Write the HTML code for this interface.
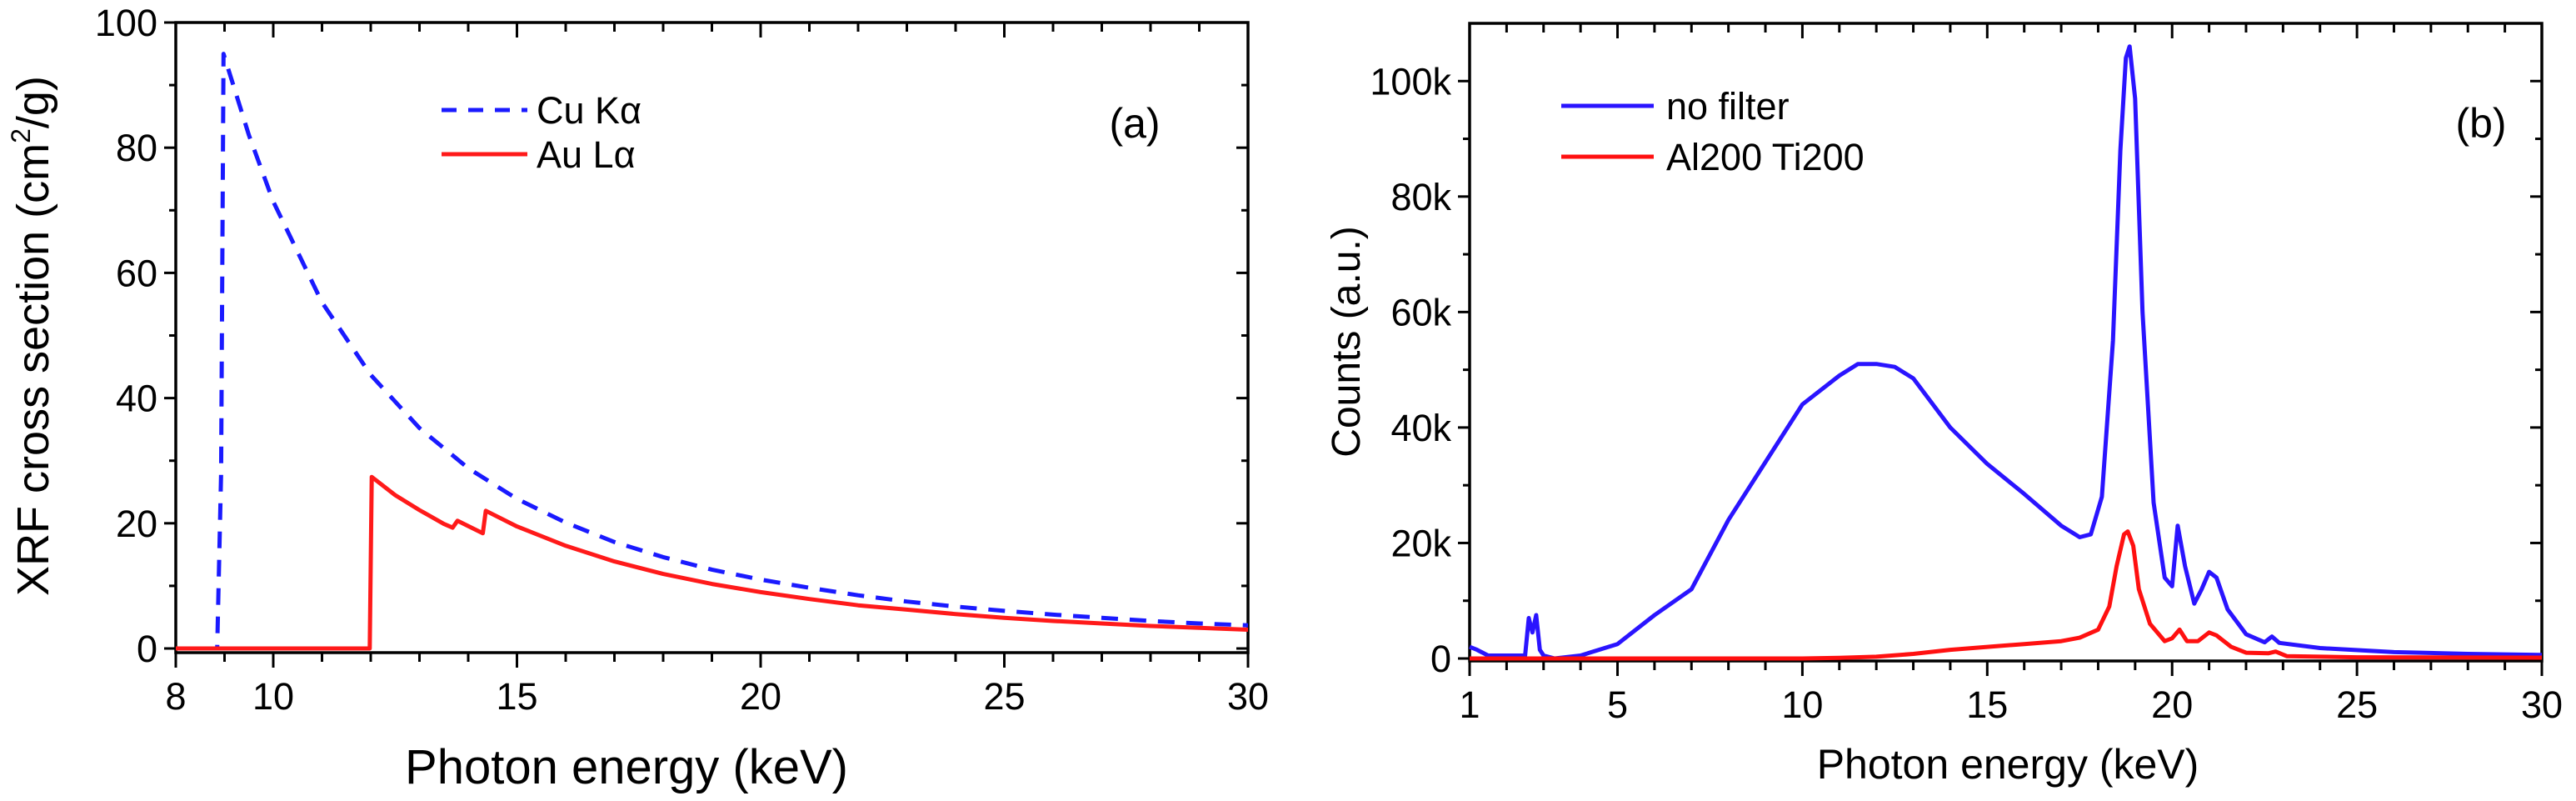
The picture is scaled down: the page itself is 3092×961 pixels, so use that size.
<!DOCTYPE html>
<html><head><meta charset="utf-8"><style>
html,body{margin:0;padding:0;background:#fff;width:3092px;height:961px;overflow:hidden}
svg{display:block;font-family:"Liberation Sans",Arial,sans-serif}
</style></head><body>
<svg id="fig" width="3092" height="961" viewBox="0 0 3092 961"></svg>
<script>
// ---- Panel (a) data ----
const cuE = [8,8.85,8.93,8.98,9.5,10,11,12,13,14,15,16,17,18,19,20,21,22,23,24,25,26,27,28,29,30];
const cuV = [0,0,28,95,82,71.4,55.3,43.7,35.2,28.8,23.9,20.1,17,14.6,12.6,11,9.7,8.5,7.5,6.7,6.0,5.4,4.9,4.4,4.0,3.7];
const auE = [8,11.98,12.02,12.5,13,13.5,13.68,13.78,14.3,14.36,15,16,17,18,19,20,21,22,23,24,25,26,27,28,29,30];
const auV = [0,0,27.4,24.5,22.1,19.9,19.3,20.4,18.4,22,19.5,16.4,13.9,11.9,10.3,9.0,7.9,6.9,6.2,5.5,4.9,4.4,4.0,3.6,3.3,3.0];
const aXTicks = [8,10,15,20,25,30];
const aYTicks = [0,20,40,60,80,100];
// ---- Panel (b) data ----
const nfE = [1,1.2,1.5,2.5,2.6,2.7,2.8,2.9,3.0,3.3,4,5,6,7,8,9,10,11,11.5,12,12.5,13,14,15,16,17,17.5,17.8,18.1,18.4,18.6,18.75,18.85,19.0,19.2,19.5,19.8,20.0,20.15,20.35,20.6,20.8,21.0,21.2,21.5,22,22.5,22.7,22.9,24,26,28,30];
const nfV = [2000,1500,500,500,7000,4500,7500,1500,500,0,500,2500,7500,12000,24000,34000,44000,49000,51000,51000,50500,48500,40000,33700,28500,23000,21000,21500,28000,55000,88000,104000,106000,97000,60000,27000,14000,12500,23000,16000,9500,12000,15000,14000,8500,4200,2800,3800,2700,1800,1100,800,600];
const afE = [1,10,11,12,13,14,15,16,17,17.5,18,18.3,18.5,18.7,18.8,18.95,19.1,19.4,19.8,20.0,20.2,20.4,20.7,21.0,21.2,21.6,22,22.6,22.8,23.1,25,30];
const afV = [0,0,100,300,800,1500,2000,2500,3000,3600,5000,9000,16000,21500,22000,19500,12000,6000,3000,3500,5000,3000,3000,4500,4000,2000,1000,900,1200,400,200,150];
const bXTicks = [1,5,10,15,20,25,30];
const bYTicks = [0,20000,40000,60000,80000,100000];
const bYLabels = ["0","20k","40k","60k","80k","100k"];

const NS="http://www.w3.org/2000/svg", svg=document.getElementById('fig');
function el(tag,attrs,parent,text){const e=document.createElementNS(NS,tag);for(const k in attrs)e.setAttribute(k,attrs[k]);if(text!==undefined)e.textContent=text;(parent||svg).appendChild(e);return e;}

function panel(o){
  const g=el('g',{});
  
  
  const X=v=>o.x0+(v-o.xmin)/(o.xmax-o.xmin)*(o.x1-o.x0);
  const Y=v=>o.y0-(v-o.ymin)/(o.ymax-o.ymin)*(o.y0-o.yTop);
  const frame=el('rect',{x:o.x0,y:o.yTop,width:o.x1-o.x0,height:o.yAxis-o.yTop,fill:'none',stroke:'#000','stroke-width':3.5},g);
  
  
  for(let v=Math.ceil(o.xmin);v<=o.xmax;v+=1){
    const maj=o.xt.includes(v), x=X(v), L=maj?18:11;
    el('line',{x1:x,y1:o.yAxis,x2:x,y2:o.yAxis+L,stroke:'#000','stroke-width':3},g);
    el('line',{x1:x,y1:o.yTop,x2:x,y2:o.yTop+L,stroke:'#000','stroke-width':3},g);
    if(maj){const t=el('text',{x:x,y:o.yAxis+68,'font-size':45,'text-anchor':'middle'},g,String(v));
      
      }
  }
  for(let i=0;i<o.yt.length;i++){
    const y=Y(o.yt[i]);
    el('line',{x1:o.x0-14,y1:y,x2:o.x0,y2:y,stroke:'#000','stroke-width':3},g);
    el('line',{x1:o.x1,y1:y,x2:o.x1-14,y2:y,stroke:'#000','stroke-width':3},g);
    const t=el('text',{x:o.x0-22,y:y+16,'font-size':45,'text-anchor':'end'},g,o.yl[i]);
    
    
    if(i<o.yt.length-1){const ym=Y((o.yt[i]+o.yt[i+1])/2);
      el('line',{x1:o.x0-8,y1:ym,x2:o.x0,y2:ym,stroke:'#000','stroke-width':3},g);
      el('line',{x1:o.x1,y1:ym,x2:o.x1-8,y2:ym,stroke:'#000','stroke-width':3},g);}
  }
  o.series.forEach(s=>{
    const d=s.E.map((e,i)=>(i?'L':'M')+X(e).toFixed(1)+' '+Y(s.V[i]).toFixed(1)).join(' ');
    const p=el('path',{d:d,fill:'none',stroke:s.color,'stroke-width':5,'stroke-dasharray':s.dash||'none','stroke-linejoin':'round'},g);
    
    
  });
  return g;
}

panel({name:'panel-a',x0:211,x1:1498,yTop:27,yAxis:783,y0:778,xmin:8,xmax:30,ymin:0,ymax:100,
  xt:aXTicks,yt:aYTicks,yl:aYTicks.map(String),
  series:[{E:cuE,V:cuV,color:'#1a1aff',dash:'20 14',name:'cu-ka-line'},{E:auE,V:auV,color:'#ff1a1a',name:'au-la-line'}]});
panel({name:'panel-b',x0:1764,x1:3051,yTop:28,yAxis:793,y0:790,xmin:1,xmax:30,ymin:0,ymax:110000,
  xt:bXTicks,yt:bYTicks,yl:bYLabels,
  series:[{E:nfE,V:nfV,color:'#2a14ff',name:'no-filter-line'},{E:afE,V:afV,color:'#ff1010',name:'al200-ti200-line'}]});
</script>
<svg width="3092" height="961" style="position:absolute;left:0;top:0">
  <g font-family="Liberation Sans, Arial, sans-serif" fill="#000">
    <text transform="translate(58,403) rotate(-90)" font-size="54" text-anchor="middle">XRF cross section (cm<tspan font-size="32" dy="-22">2</tspan><tspan dy="22">/g)</tspan></text>
    <text x="752" y="940" font-size="58" text-anchor="middle">Photon energy (keV)</text>
    <text x="1362" y="165" font-size="50" text-anchor="middle">(a)</text>
    <line x1="530" y1="132" x2="633" y2="132" stroke="#1a1aff" stroke-width="5" stroke-dasharray="18 14"/>
    <text x="644" y="148" font-size="45">Cu Kα</text>
    <line x1="530" y1="185" x2="633" y2="185" stroke="#ff1a1a" stroke-width="5"/>
    <text x="644" y="201" font-size="45">Au Lα</text>
    <text transform="translate(1632,410) rotate(-90)" font-size="48" text-anchor="middle">Counts (a.u.)</text>
    <text x="2410" y="934" font-size="50" text-anchor="middle">Photon energy (keV)</text>
    <text x="2978" y="165" font-size="50" text-anchor="middle">(b)</text>
    <line x1="1874" y1="127" x2="1985" y2="127" stroke="#2a14ff" stroke-width="5"/>
    <text x="2000" y="143" font-size="45">no filter</text>
    <line x1="1874" y1="188" x2="1985" y2="188" stroke="#ff1010" stroke-width="5"/>
    <text x="2000" y="204" font-size="45">Al200 Ti200</text>
  </g>
</svg>
</body></html>
